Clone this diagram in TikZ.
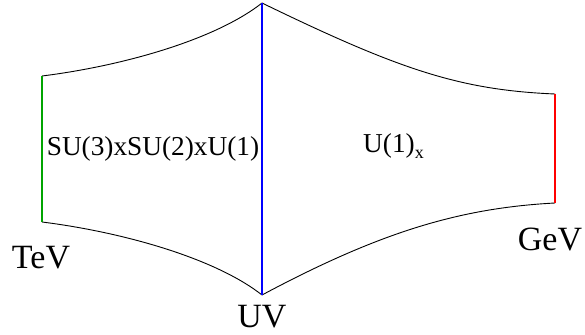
\documentclass[tikz,border=0pt]{standalone}
\usepackage{fontspec}
\setmainfont{Liberation Serif}
\begin{document}
\begin{tikzpicture}[x=1pt,y=-1pt,
  edge/.style={black,line width=0.9pt},
  brane/.style={line width=1.6pt},
  lbl/.style={inner sep=0pt,anchor=base},
  big/.style={font=\fontsize{34}{34}\selectfont},
  mid/.style={font=\fontsize{27.3}{27.3}\selectfont}]
\useasboundingbox (0,0) rectangle (585,334);
\definecolor{bgreen}{RGB}{0,165,0}
\coordinate (TLt) at (42,76);
\coordinate (TLb) at (42,222);
\coordinate (UVt) at (262,3);
\coordinate (UVb) at (262,295);
\coordinate (GRt) at (555,94);
\coordinate (GRb) at (555,203);
\draw[edge] (TLt) .. controls (122,66) and (215,40) .. (UVt);
\draw[edge] (TLb) .. controls (122,232) and (215,258) .. (UVb);
\draw[edge] (UVt) .. controls (400,70) and (460,90) .. (GRt);
\draw[edge] (UVb) .. controls (380,232) and (460,208) .. (GRb);
\draw[brane,bgreen] (TLt) -- (TLb);
\draw[brane,blue] (UVt) -- (UVb);
\draw[brane,red] (GRt) -- (GRb);
\node[lbl,big] (tev) at (41,268) {TeV};
\node[lbl,big] (uv) at (262,327) {UV};
\node[lbl,big] (gev) at (550,250) {GeV};
\node[lbl,mid] (sm) at (153,155) {SU(3)xSU(2)xU(1)};
\node[lbl,mid,anchor=base west] (ux) at (363,152) {U(1)\raisebox{-6pt}{\fontsize{18}{18}\selectfont x}};
\end{tikzpicture}
\end{document}
